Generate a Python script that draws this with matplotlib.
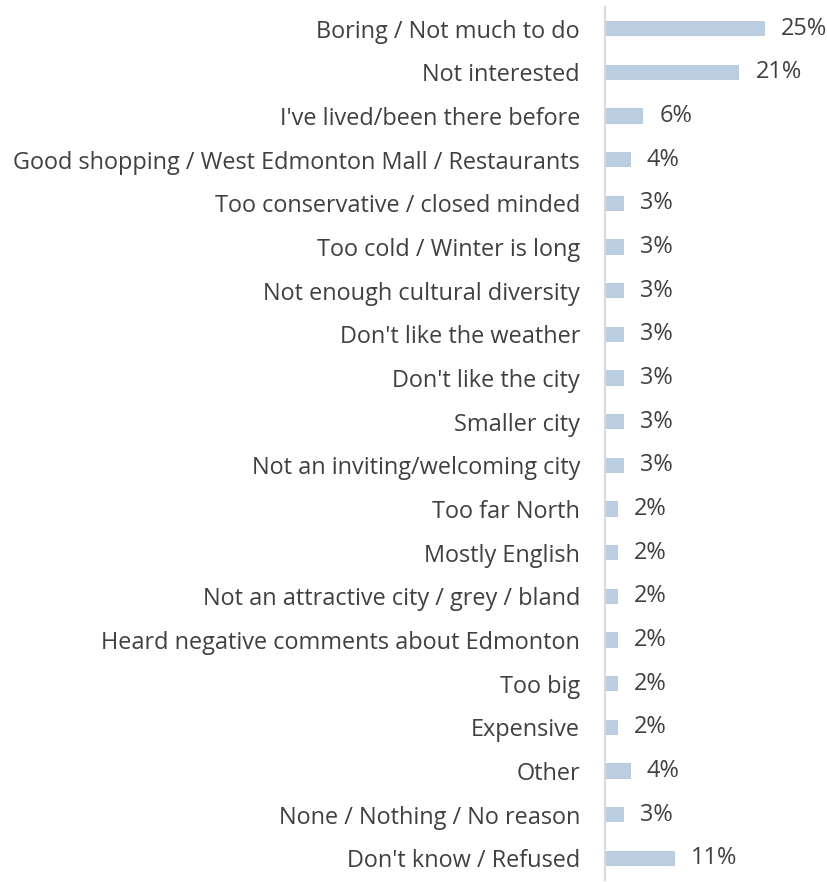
import matplotlib
matplotlib.use("Agg")
import matplotlib.pyplot as plt

Categories = [
    "Boring / Not much to do",
    "Not interested",
    "I've lived/been there before",
    "Good shopping / West Edmonton Mall / Restaurants",
    "Too conservative / closed minded",
    "Too cold / Winter is long",
    "Not enough cultural diversity",
    "Don't like the weather",
    "Don't like the city",
    "Smaller city",
    "Not an inviting/welcoming city",
    "Too far North",
    "Mostly English",
    "Not an attractive city / grey / bland",
    "Heard negative comments about Edmonton",
    "Too big",
    "Expensive",
    "Other",
    "None / Nothing / No reason",
    "Don't know / Refused",
]
Values = [25, 21, 6, 4, 3, 3, 3, 3, 3, 3, 3, 2, 2, 2, 2, 2, 2, 4, 3, 11]

BarColor = "#BBCEE1"
TextColor = "#404040"
FontSize = 16.9

plt.rcParams["font.family"] = ["Open Sans", "DejaVu Sans"]

Fig = plt.figure(figsize=(8.28, 8.82), dpi=100)
W, H = 828, 882
Ax = Fig.add_axes([605 / W, 2 / H, 223 / W, 873 / H])

Positions = list(range(len(Categories)))
Ax.barh(Positions, Values, height=0.35, color=BarColor)
Ax.set_xlim(0, 223 / 6.4)
Ax.set_ylim(len(Categories) - 0.5, -0.5)

for Pos, Val in zip(Positions, Values):
    Ax.annotate(f"{Val}%", (Val, Pos), xytext=(16, 0), textcoords="offset pixels",
                ha="left", va="center", fontsize=FontSize, color=TextColor)

Ax.set_yticks(Positions)
Ax.set_yticklabels(Categories, fontsize=FontSize, color=TextColor)
Ax.tick_params(axis="y", length=0, pad=18)
Ax.set_xticks([])

for Side in ["top", "right", "bottom"]:
    Ax.spines[Side].set_visible(False)
Ax.spines["left"].set_color("#D9D9D9")
Ax.spines["left"].set_linewidth(1.5)

Fig.savefig("out.png", dpi=100)
